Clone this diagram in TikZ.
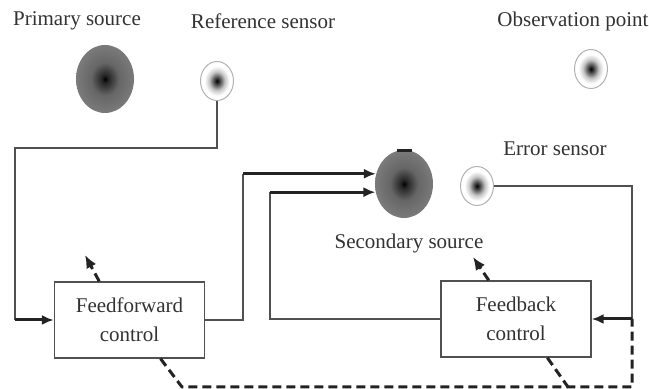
\documentclass[tikz,border=0pt]{standalone}
\usepackage{fontspec}
\setmainfont{Liberation Serif}
\usetikzlibrary{arrows.meta,calc,positioning,shapes.geometric}
\definecolor{WireGray}{RGB}{80,80,80}
\definecolor{InkGray}{RGB}{35,35,35}
\definecolor{TextGray}{RGB}{50,50,50}
\pgfdeclareradialshading{sourceshade}{\pgfpointorigin}{color(0bp)=(black);color(3bp)=(black!85);color(12bp)=(black!60);color(25bp)=(black!52);color(50bp)=(black!52)}
\pgfdeclareradialshading{sensorshade}{\pgfpointorigin}{color(0bp)=(black);color(4bp)=(black!75);color(12bp)=(black!22);color(19bp)=(white);color(50bp)=(white)}

\begin{document}
\begin{tikzpicture}[x=.5pt,y=-.5pt,>=Latex,
  lbl/.style={font=\fontsize{10.5}{12.5}\selectfont,text=TextGray,inner sep=0pt},
  source/.style={ellipse,inner sep=0pt,minimum width=29pt,minimum height=34pt,shading=sourceshade},
  sensor/.style={ellipse,inner sep=0pt,minimum width=16.5pt,minimum height=19.5pt,shading=sensorshade,draw=black!30,line width=.5pt},
  ctrl/.style={draw=WireGray,line width=.7pt,minimum width=75pt,minimum height=38pt,align=center,font=\fontsize{10.5}{14.5}\selectfont,text=TextGray},
  wire/.style={draw=WireGray,line width=.7pt},
  feed/.style={draw=InkGray,line width=1.5pt,arrows={-Latex[length=6pt,width=5pt]}},
  adapt/.style={draw=InkGray,line width=1.5pt,dash pattern=on 4.5pt off 2.5pt}]
\useasboundingbox (0,0) rectangle (649,389);
% transducers
\node[source] (pri) at (105,79) {};\node[sensor] (ref) at (217,81) {};\node[sensor] (obs) at (591,69) {};
\node[source] (sec) at (404,184) {};\node[sensor] (err) at (477,186) {};
\draw[InkGray,line width=1.2pt] ($(sec.north)+(-7,1)$)--++(15,0);
\node[lbl] at (77,21) {Primary source};\node[lbl] at (263,21) {Reference sensor};\node[lbl] at (573,21) {Observation point};
\node[lbl] at (555,149) {Error sensor};\node[lbl] at (409,243) {Secondary source};
% controllers
\node[ctrl] (ff) at (129.5,320) {Feedforward\\control};\node[ctrl] (fb) at (516,319) {Feedback\\control};
% signal paths
\coordinate (refturn) at (15,148);\coordinate (ffturn) at (243,320);\coordinate (fbturn) at (270,319);\coordinate (errturn) at (632,186);
\draw[wire] (ref.south) |- (refturn) -- (refturn |- ff.west);\draw[feed] (refturn |- ff.west) -- (ff.west);
\draw[wire] (ff.east) -- (ffturn) -- (ffturn |- sec.160);\draw[feed] (ffturn |- sec.160) -- (sec.160);
\draw[wire] (fb.west) -- (fbturn) -- (fbturn |- sec.196);\draw[feed] (fbturn |- sec.196) -- (sec.196);
\draw[wire] (err.east) -- (errturn) -- (errturn |- fb.east);\draw[feed] (errturn |- fb.east) -- (fb.east);
% adaptation paths
\coordinate (ffbot) at ($(ff.south west)!.705!(ff.south east)$);\coordinate (fbbot) at ($(fb.south west)!.707!(fb.south east)$);
\coordinate (ffkink) at (182,387);\coordinate (fbkink) at (568,387);
\draw[adapt] (ffbot) -- (ffkink) -- (errturn |- ffkink) -- (errturn |- fb.east);\draw[adapt] (fbbot) -- (fbkink);
\coordinate (fftop) at ($(ff.north west)!.3!(ff.north east)$);\coordinate (fbtop) at ($(fb.north west)!.32!(fb.north east)$);
\coordinate (fftip) at (85,255);\coordinate (fbtip) at (473,257);
\draw[adapt,arrows={-Latex[length=6.5pt,width=5.5pt]}] (fftop) -- (fftip);\draw[adapt,arrows={-Latex[length=6.5pt,width=5.5pt]}] (fbtop) -- (fbtip);
\end{tikzpicture}
\end{document}
